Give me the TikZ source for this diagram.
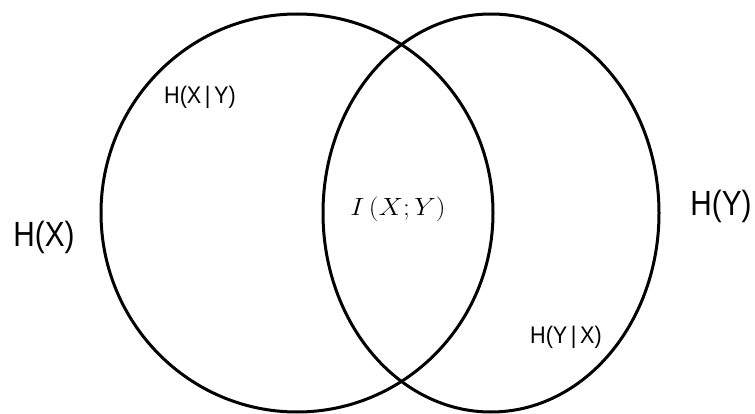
\documentclass[tikz,border=0pt]{standalone}
\usepackage{amsmath,amssymb}
\usepackage{fontspec}
\setsansfont{Liberation Sans}
\usepackage{xcolor}
\usepackage{tikz}

\begin{document}
\begin{tikzpicture}[x=1pt,y=-1pt,font=\sffamily]
  \useasboundingbox (0,0) rectangle (755,414);
  \draw[line width=3pt] (297,213) ellipse [x radius=196, y radius=199];
  \draw[line width=3pt] (491,213) ellipse [x radius=168, y radius=199];
  \node (hx) at (44,237) {\fontsize{35}{35}\selectfont\scalebox{0.85}[1]{H(X)}};
  \node (hy) at (721,206) {\fontsize{35}{35}\selectfont\scalebox{0.85}[1]{H(Y)}};
  \node (hxy) at (200,97) {\fontsize{24}{24}\selectfont\scalebox{0.9}[1]{H(X\,|\,Y)}};
  \node (hyx) at (566,337) {\fontsize{24}{24}\selectfont\scalebox{0.9}[1]{H(Y\,|\,X)}};
  \node (ixy) at (398,209) {\fontsize{29}{29}\selectfont\scalebox{1.1}[1]{$I\,(X;Y)$}};
\end{tikzpicture}
\end{document}
